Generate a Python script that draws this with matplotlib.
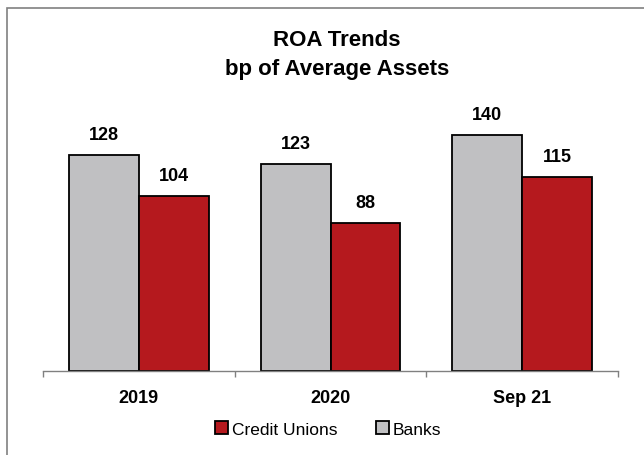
import numpy as np
import matplotlib.pyplot as plt
from matplotlib.patches import Rectangle, Patch

plt.rcParams["font.family"] = ["Liberation Sans", "DejaVu Sans"]

categories = ["2019", "2020", "Sep 21"]
banks = [128, 123, 140]
credit_unions = [104, 88, 115]

BANK_GRAY = "#C0C0C2"
CU_RED = "#B5191E"
AXIS_GRAY = "#808080"

fig = plt.figure(figsize=(6.44, 4.56), dpi=100)
ax = fig.add_axes([43 / 644, 84.3 / 456, 575 / 644, 269.4 / 456])

x = np.arange(len(categories))
width = 0.365

bank_bars = ax.bar(x - width / 2, banks, width, color=BANK_GRAY,
                   edgecolor="black", linewidth=1.3, label="Banks")
cu_bars = ax.bar(x + width / 2, credit_unions, width, color=CU_RED,
                 edgecolor="black", linewidth=1.3, label="Credit Unions")

for bars, vals in [(bank_bars, banks), (cu_bars, credit_unions)]:
    for b, v in zip(bars, vals):
        ax.annotate(f"{v}", (b.get_x() + b.get_width() / 2, v),
                    xytext=(0, 11.5), textcoords="offset points",
                    ha="center", va="baseline", fontsize=13, fontweight="bold")

ax.set_xlim(-0.5, len(categories) - 0.5)
ax.set_ylim(0, 160)
ax.set_yticks([])

ax.set_xticks(x)
ax.set_xticklabels(categories, fontsize=13, fontweight="bold")
ax.tick_params(axis="x", which="major", length=0, pad=13)
ax.set_xticks(np.arange(-0.5, len(categories), 1), minor=True)
ax.tick_params(axis="x", which="minor", length=4.5, width=1, color=AXIS_GRAY)

for side in ["top", "left", "right"]:
    ax.spines[side].set_visible(False)
ax.spines["bottom"].set_color(AXIS_GRAY)
ax.spines["bottom"].set_linewidth(1)

fig.text(0.523, 1 - 41 / 456, "ROA Trends", ha="center", va="center",
         fontsize=16, fontweight="bold")
fig.text(0.523, 1 - 69 / 456, "bp of Average Assets", ha="center", va="center",
         fontsize=16, fontweight="bold")

handles = [
    Patch(facecolor=CU_RED, edgecolor="black", linewidth=1.3, label="Credit Unions"),
    Patch(facecolor=BANK_GRAY, edgecolor="black", linewidth=1.3, label="Banks"),
]
fig.legend(handles=handles, loc="center", bbox_to_anchor=(328 / 644, 1 - 430 / 456),
           ncol=2, frameon=False, fontsize=12.5, handlelength=0.75,
           handleheight=0.75, handletextpad=0.25, columnspacing=2.2)

# outer frame around the chart
fig.patches.append(Rectangle((7 / 644, -0.1), 1.2, 1 - 9 / 456 + 0.1,
                             transform=fig.transFigure, fill=False,
                             edgecolor=AXIS_GRAY, linewidth=1.2))

fig.savefig("out.png", dpi=100)
